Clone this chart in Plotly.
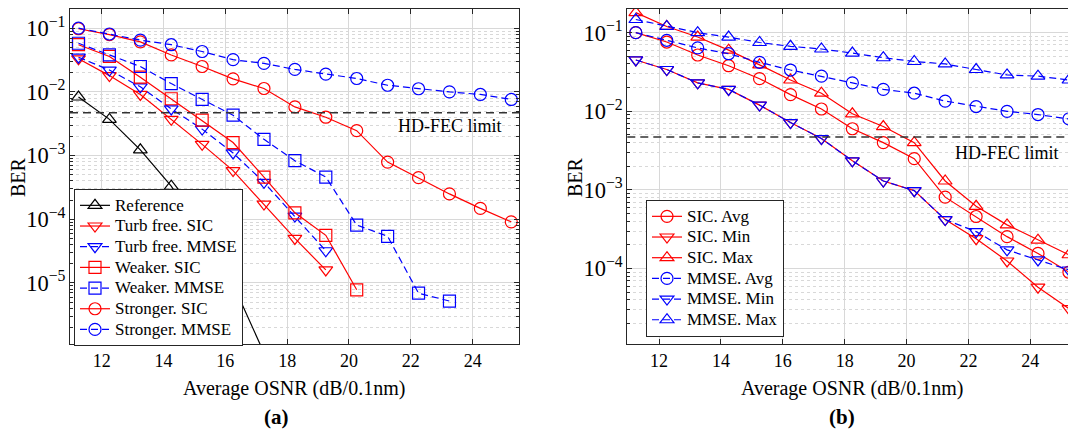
import math
import plotly.graph_objects as go

# ---------------- data ----------------
osnr = [11.25, 12.25, 13.25, 14.25, 15.25, 16.25, 17.25, 18.25, 19.25, 20.25,
        21.25, 22.25, 23.25, 24.25, 25.25]

# panel (a)
ref_ber = [8.3e-3, 3.7e-3, 1.23e-3, 3.3e-4, 6e-5, 9.5e-6, 8e-7]
tf_sic = [3.3e-2, 1.8e-2, 9.1e-3, 3.7e-3, 1.5e-3, 5.8e-4, 1.73e-4, 5.0e-5, 1.6e-5]
tf_mmse = [3.5e-2, 2.2e-2, 1.2e-2, 5.4e-3, 2.6e-3, 1.1e-3, 3.8e-4, 1.12e-4, 3.2e-5]
weak_sic = [5.5e-2, 3.6e-2, 1.7e-2, 7.8e-3, 3.6e-3, 1.6e-3, 4.6e-4, 1.26e-4, 5.6e-5, 7.8e-6]
weak_mmse = [5.8e-2, 3.8e-2, 2.5e-2, 1.35e-2, 7.6e-3, 4.3e-3, 1.8e-3, 8.3e-4, 4.6e-4,
             8.1e-5, 5.4e-5, 6.9e-6, 5.2e-6]
strong_sic = [9.8e-2, 7.9e-2, 6.1e-2, 3.8e-2, 2.5e-2, 1.6e-2, 1.13e-2, 5.8e-3, 4.0e-3,
              2.46e-3, 7.9e-4, 4.5e-4, 2.5e-4, 1.48e-4, 9.1e-5]
strong_mmse = [1.0e-1, 8.1e-2, 6.5e-2, 5.5e-2, 4.3e-2, 3.2e-2, 2.8e-2, 2.25e-2, 1.9e-2,
               1.62e-2, 1.27e-2, 1.12e-2, 1.0e-2, 9.1e-3, 7.6e-3]

# panel (b)
sic_avg = [1.0e-1, 7.6e-2, 5.2e-2, 3.8e-2, 2.6e-2, 1.63e-2, 1.07e-2, 6.0e-3, 4.0e-3,
           2.5e-3, 8.1e-4, 4.6e-4, 2.55e-4, 1.56e-4, 9.0e-5]
sic_min = [4.5e-2, 3.4e-2, 2.3e-2, 1.9e-2, 1.2e-2, 7.2e-3, 4.5e-3, 2.35e-3, 1.3e-3,
           9.8e-4, 4.2e-4, 2.4e-4, 1.25e-4, 5.8e-5, 3.1e-5]
sic_max = [1.8e-1, 1.2e-1, 8.8e-2, 6.0e-2, 3.9e-2, 2.5e-2, 1.7e-2, 9.3e-3, 6.4e-3,
           4.0e-3, 1.3e-3, 6.2e-4, 3.6e-4, 2.3e-4, 1.5e-4]
mmse_avg = [1.0e-1, 8.0e-2, 6.4e-2, 5.4e-2, 4.2e-2, 3.35e-2, 2.8e-2, 2.3e-2, 1.9e-2,
            1.7e-2, 1.35e-2, 1.15e-2, 1.0e-2, 9.1e-3, 8.0e-3]
mmse_min = [4.5e-2, 3.4e-2, 2.3e-2, 1.9e-2, 1.2e-2, 7.2e-3, 4.5e-3, 2.35e-3, 1.3e-3,
            9.8e-4, 4.2e-4, 2.95e-4, 1.73e-4, 1.29e-4, 9.6e-5]
mmse_max = [1.47e-1, 1.2e-1, 1.0e-1, 8.8e-2, 7.5e-2, 6.7e-2, 6.2e-2, 5.5e-2, 4.8e-2,
            4.3e-2, 4.0e-2, 3.4e-2, 2.9e-2, 2.8e-2, 2.5e-2]

hd_fec = 4.7e-3
x_ticks = [12, 14, 16, 18, 20, 22, 24]

# ---------------- style ----------------
W, H = 1068, 431
FONT = "Liberation Serif"
RED = "#ff0000"
BLUE = "#0000ff"
BLACK = "#000000"
AX = "#262626"
DASH = "7px,4px"


def px(x):
    return x / W


def py(y):
    # paper y (plot area spans 9..344 px)
    return (344 - y) / 335


fig = go.Figure()


def add(xv, yv, name, color, symbol, dash, axis, legend):
    fig.add_trace(go.Scatter(
        x=xv[:len(yv)], y=yv,
        name='<span style="font-size:17px">' + name + '</span>',
        mode="lines+markers",
        line=dict(color=color, width=1.2, dash=dash),
        marker=dict(symbol=symbol, size=12, color=color,
                    line=dict(color=color, width=1.2)),
        xaxis="x" if axis == 1 else "x2", yaxis="y" if axis == 1 else "y2",
        legend=legend,
    ))


add(osnr, ref_ber, "Reference", BLACK, "triangle-up-open", "solid", 1, "legend")
add(osnr, tf_sic, "Turb free. SIC", RED, "triangle-down-open", "solid", 1, "legend")
add(osnr, tf_mmse, "Turb free. MMSE", BLUE, "triangle-down-open", DASH, 1, "legend")
add(osnr, weak_sic, "Weaker. SIC", RED, "square-open", "solid", 1, "legend")
add(osnr, weak_mmse, "Weaker. MMSE", BLUE, "square-open", DASH, 1, "legend")
add(osnr, strong_sic, "Stronger. SIC", RED, "circle-open", "solid", 1, "legend")
add(osnr, strong_mmse, "Stronger. MMSE", BLUE, "circle-open", DASH, 1, "legend")

add(osnr, sic_avg, "SIC. Avg", RED, "circle-open", "solid", 2, "legend2")
add(osnr, sic_min, "SIC. Min", RED, "triangle-down-open", "solid", 2, "legend2")
add(osnr, sic_max, "SIC. Max", RED, "triangle-up-open", "solid", 2, "legend2")
add(osnr, mmse_avg, "MMSE. Avg", BLUE, "circle-open", DASH, 2, "legend2")
add(osnr, mmse_min, "MMSE. Min", BLUE, "triangle-down-open", DASH, 2, "legend2")
add(osnr, mmse_max, "MMSE. Max", BLUE, "triangle-up-open", DASH, 2, "legend2")

tickfont = dict(family=FONT, size=18, color="#000000")
minor_y = dict(ticks="inside", ticklen=3, tickcolor=AX, dtick="D1",
               showgrid=True, gridcolor="#d8d8d8", griddash="dot", gridwidth=1)


def xaxis(domain, rng, mirror):
    return dict(domain=domain, range=rng, tickvals=x_ticks, ticks="inside",
                ticklen=5, tickcolor=AX, showline=True, linecolor=AX, linewidth=1,
                mirror=mirror, showgrid=True, gridcolor="#d8d8d8", gridwidth=1,
                zeroline=False, tickfont=tickfont, automargin=False)


def yaxis(rng, anchor, mirror):
    return dict(type="log", range=rng, dtick=1, exponentformat="power",
                ticks="inside", ticklen=5, tickcolor=AX, showline=True,
                linecolor=AX, linewidth=1, mirror=mirror, showgrid=True,
                gridcolor="#d8d8d8", gridwidth=1, zeroline=False,
                tickfont=tickfont, minor=minor_y, anchor=anchor, automargin=False)


legend_common = dict(xanchor="left", yanchor="top", bgcolor="white",
                     bordercolor=AX, borderwidth=1,
                     font=dict(family=FONT, size=13.6, color="#000000"),
                     itemwidth=30, tracegroupgap=0)

fig.update_layout(
    width=W, height=H,
    margin=dict(l=0, r=0, t=9, b=87),
    paper_bgcolor="white", plot_bgcolor="white",
    font=dict(family=FONT, size=18, color="#000000"),
    xaxis=xaxis([px(70), px(519)], [10.975, 25.5], "ticks"),
    yaxis=yaxis([math.log10(1.1e-6), math.log10(0.2)], "x", "ticks"),
    xaxis2=xaxis([px(627.3), 1.0], [10.975, 25.22], "ticks"),
    yaxis2=yaxis([math.log10(1.1e-5), math.log10(0.2)], "x2", False),
    legend=dict(x=px(74), y=py(189), **legend_common),
    legend2=dict(x=px(646), y=py(200), **legend_common),
    showlegend=True,
)

for xr, yr in (("x domain", "y"), ("x2 domain", "y2")):
    fig.add_shape(type="line", xref=xr, yref=yr, x0=0, x1=1, y0=hd_fec, y1=hd_fec,
                  line=dict(color="#333333", width=1.5, dash="8px,5px"), layer="above")

ann = [
    ("HD-FEC limit", 449.5, 126, 18, 0),
    ("HD-FEC limit", 1006.7, 153, 18, 0),
    ("BER", 18, 177, 20, -90),
    ("BER", 575, 177, 20, -90),
    ("Average OSNR (dB/0.1nm)", 294, 388, 20, 0),
    ("Average OSNR (dB/0.1nm)", 851.5, 388, 20, 0),
    ("<b>(a)</b>", 276, 417, 21, 0),
    ("<b>(b)</b>", 841.7, 417, 21, 0),
]
for text, x, y, size, ang in ann:
    fig.add_annotation(text=text, x=px(x), y=py(y), xref="paper", yref="paper",
                       xanchor="center", yanchor="middle", showarrow=False,
                       textangle=ang, font=dict(family=FONT, size=size, color="#000000"))

fig.write_html("out.html")
